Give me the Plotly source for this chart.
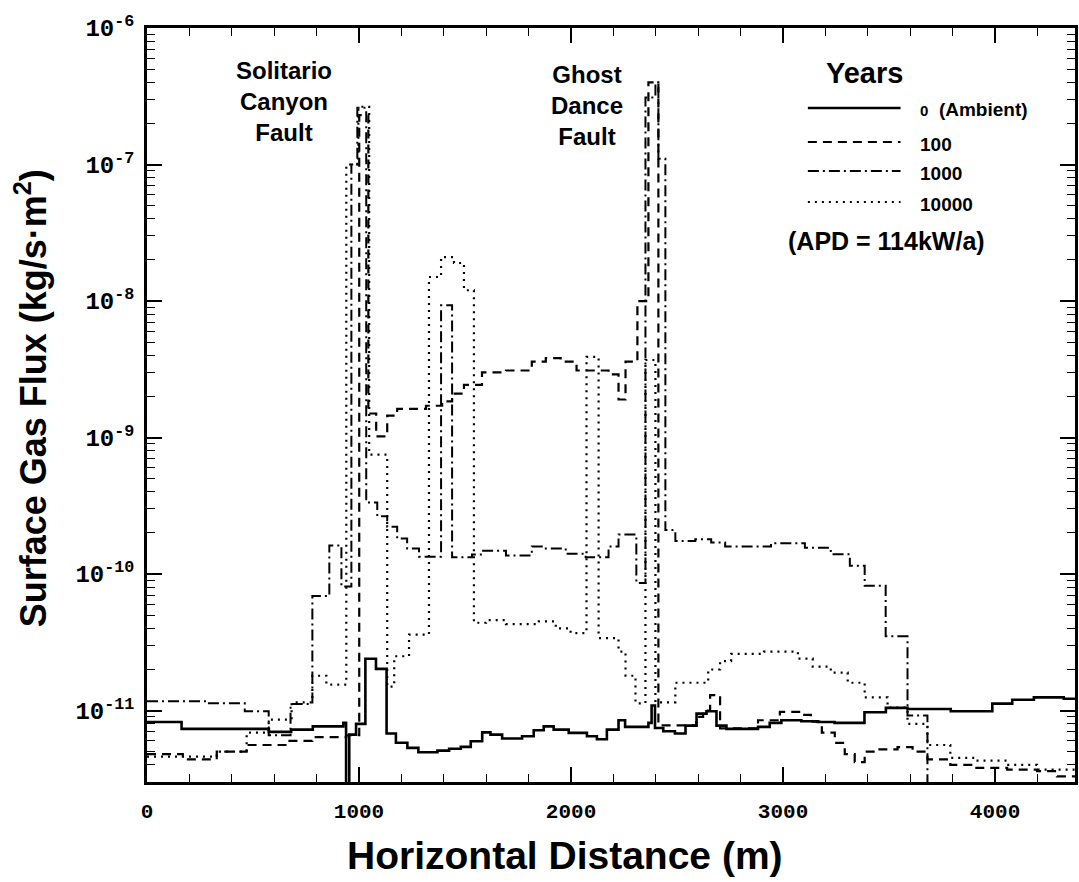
import plotly.graph_objects as go

# ---------------- data (step series: left edge of each cell, flux value) ----------------
X_MAX = 4377

x_ambient = [0, 163, 575, 680, 782, 926, 939, 954, 986, 1030, 1080, 1130, 1174, 1228, 1280,
             1370, 1425, 1480, 1527, 1581, 1620, 1675, 1769, 1824, 1871, 1918, 1989, 2075, 2122, 2169,
             2224, 2255, 2365, 2380, 2396, 2435, 2490, 2540, 2592, 2639, 2686, 2733, 2882, 2937, 2992,
             3086, 3164, 3243, 3384, 3485, 3587, 3791, 3987, 4081, 4183, 4324]
y_ambient = [8.26e-12, 7.35e-12, 6.98e-12, 7.26e-12, 7.67e-12, 8.13e-12, 1e-13, 6.67e-12, 8.0e-12, 2.40e-11,
             2.02e-11, 6.79e-12, 5.81e-12, 5.33e-12, 4.95e-12, 5.09e-12, 5.25e-12, 5.42e-12, 5.96e-12, 6.93e-12,
             6.67e-12, 6.24e-12, 6.49e-12, 7.18e-12, 7.67e-12, 7.26e-12, 6.87e-12, 6.49e-12, 6.17e-12, 7.26e-12,
             8.49e-12, 7.60e-12, 8.13e-12, 1.09e-11, 7.46e-12, 7.06e-12, 6.79e-12, 7.76e-12, 9.5e-12, 9.89e-12,
             7.76e-12, 7.35e-12, 7.6e-12, 8.13e-12, 8.49e-12, 8.36e-12, 8.26e-12, 8.13e-12, 9.73e-12, 1.047e-11,
             1.028e-11, 9.89e-12, 1.125e-11, 1.2e-11, 1.25e-11, 1.22e-11]

x_100 = [0, 169, 329, 470, 672, 780, 940, 1001, 1044, 1081, 1133, 1180, 1316, 1392, 1439,
         1495, 1580, 1693, 1815, 1881, 1951, 2026, 2177, 2224, 2257, 2313, 2365, 2412, 2591, 2623,
         2656, 2703, 2882, 2985, 3084, 3131, 3183, 3244, 3291, 3338, 3385, 3446, 3540, 3611, 3681,
         3789, 3902, 4057, 4198, 4292]
y_100 = [4.8e-12, 4.4e-12, 5.0e-12, 5.6e-12, 6.0e-12, 6.4e-12, 6.6e-12, 2.3e-7, 1.5e-9, 1.02e-9,
         1.45e-9, 1.62e-9, 1.71e-9, 1.84e-9, 2.1e-9, 2.43e-9, 3.0e-9, 3.1e-9, 3.6e-9, 3.82e-9,
         3.6e-9, 3.1e-9, 2.9e-9, 1.9e-9, 3.6e-9, 1.0e-8, 4.0e-7, 7.8e-12, 9.0e-12, 1.0e-11,
         1.3e-11, 7.4e-12, 8.5e-12, 9.8e-12, 9.3e-12, 8.3e-12, 6.9e-12, 5.8e-12, 4.8e-12, 4.2e-12,
         5.0e-12, 5.2e-12, 5.4e-12, 5.0e-12, 4.4e-12, 4.0e-12, 3.8e-12, 3.7e-12, 3.6e-12, 3.3e-12]

x_1000 = [0, 282, 461, 574, 677, 780, 860, 917, 964, 992, 1034, 1086, 1133, 1180, 1227,
          1283, 1387, 1439, 1533, 1580, 1693, 1815, 1881, 1975, 2069, 2177, 2224, 2308, 2351, 2398,
          2412, 2445, 2492, 2586, 2661, 2727, 2943, 3103, 3225, 3315, 3385, 3484, 3587, 3681]
y_1000 = [1.17e-11, 1.13e-11, 9.9e-12, 6.6e-12, 1.12e-11, 6.9e-11, 1.62e-10, 8.1e-11, 1.0e-7, 2.6e-7,
          3.35e-10, 2.65e-10, 2.22e-10, 1.82e-10, 1.54e-10, 1.34e-10, 9.3e-9, 1.33e-10, 1.39e-10, 1.48e-10,
          1.37e-10, 1.59e-10, 1.54e-10, 1.41e-10, 1.33e-10, 1.59e-10, 1.95e-10, 8.6e-11, 3.1e-7, 4.0e-7,
          1.1e-7, 2.1e-10, 1.75e-10, 1.8e-10, 1.7e-10, 1.59e-10, 1.68e-10, 1.56e-10, 1.4e-10, 1.15e-10,
          8.2e-11, 3.5e-11, 9.2e-12, 1e-13]

x_10000 = [0, 329, 470, 574, 682, 780, 846, 940, 997, 1048, 1133, 1166, 1236, 1330, 1387,
           1448, 1495, 1542, 1599, 1693, 1848, 1928, 1998, 2073, 2130, 2224, 2257, 2304, 2351, 2398,
           2492, 2647, 2703, 2755, 2910, 3070, 3140, 3225, 3305, 3385, 3493, 3587, 3681, 3789, 3902,
           4057, 4198]
y_10000 = [4.6e-12, 5.0e-12, 6.9e-12, 8.6e-12, 1.15e-11, 1.8e-11, 1.55e-11, 1.0e-7, 2.65e-7, 7.5e-10,
           1.5e-11, 2.5e-11, 3.6e-11, 1.5e-8, 2.1e-8, 1.9e-8, 1.2e-8, 4.4e-11, 4.6e-11, 4.3e-11,
           4.5e-11, 4.0e-11, 3.7e-11, 3.9e-9, 3.4e-11, 2.7e-11, 1.8e-11, 1.13e-11, 3.7e-9, 1.15e-11,
           1.6e-11, 2.0e-11, 2.3e-11, 2.6e-11, 2.7e-11, 2.4e-11, 2.1e-11, 1.9e-11, 1.6e-11, 1.25e-11,
           1.05e-11, 8.0e-12, 5.6e-12, 4.5e-12, 4.3e-12, 4.0e-12, 3.7e-12]

legend_labels = ["<span style='font-size:15px'>0</span>  (Ambient)", "100", "1000", "10000"]
x_ticks = [0, 1000, 2000, 3000, 4000]
y_ticks = [1e-11, 1e-10, 1e-9, 1e-8, 1e-7, 1e-6]
y_ticktext = ["10<sup>-11</sup>", "10<sup>-10</sup>", "10<sup>-9</sup>", "10<sup>-8</sup>",
              "10<sup>-7</sup>", "10<sup>-6</sup>"]

# ---------------- layout helpers ----------------
W, H = 1079, 882
ML, MR, MT, MB = 147, 1, 28, 100
PW, PH = W - ML - MR, H - MT - MB


def pxx(x):
    return (x - ML) / PW


def pxy(y):
    return 1 - (y - MT) / PH


SANS = "Liberation Sans"
MONO = "Liberation Mono"

dashes = ["solid", "9px,6px", "11px,4px,2px,4px", "2px,5px"]
widths = [2.6, 2.2, 2.0, 2.2]
series = [(x_ambient, y_ambient), (x_100, y_100), (x_1000, y_1000), (x_10000, y_10000)]

fig = go.Figure()
for (xs, ys), dsh, w in zip(series, dashes, widths):
    fig.add_trace(go.Scatter(
        x=list(xs) + [X_MAX], y=list(ys) + [ys[-1]], mode="lines",
        line=dict(shape="hv", color="black", width=w, dash=dsh), showlegend=False,
        hoverinfo="skip"))

minor_y = [k * 10.0 ** e for e in range(-12, -6) for k in range(2, 10)]
minor_y = [v for v in minor_y if 3e-12 <= v <= 1e-6]

fig.update_layout(
    width=W, height=H, margin=dict(l=ML, r=MR, t=MT, b=MB),
    paper_bgcolor="white", plot_bgcolor="white",
    xaxis=dict(range=[0, X_MAX], tickvals=x_ticks, ticktext=[str(v) for v in x_ticks],
               ticks="inside", ticklen=15, tickwidth=1.5, tickcolor="black",
               minor=dict(tickvals=list(range(200, 4400, 200)), ticks="inside", ticklen=8,
                          tickwidth=1.2, tickcolor="black", showgrid=False),
               showline=True, linewidth=2.5, linecolor="black", mirror="allticks",
               showgrid=False, zeroline=False, ticklabelstandoff=8,
               tickfont=dict(family=MONO, size=21, color="black", weight="bold")),
    yaxis=dict(type="log", range=[-11.523, -6], tickvals=y_ticks, ticktext=y_ticktext,
               ticks="inside", ticklen=15, tickwidth=1.5, tickcolor="black",
               minor=dict(tickvals=minor_y, ticks="inside", ticklen=8, tickwidth=1.2,
                          tickcolor="black", showgrid=False),
               showline=True, linewidth=2.5, linecolor="black", mirror="allticks",
               showgrid=False, zeroline=False, ticklabelstandoff=5,
               tickfont=dict(family=MONO, size=24, color="black", weight="bold")),
)

# legend (custom, drawn inside the plot)
leg_y = [108, 142, 171, 202]
for yy, dsh, w, lab in zip(leg_y, dashes, widths, legend_labels):
    fig.add_shape(type="line", xref="paper", yref="paper", x0=pxx(810), x1=pxx(903),
                  y0=pxy(yy), y1=pxy(yy), line=dict(color="black", width=w, dash=dsh))
    fig.add_annotation(xref="paper", yref="paper", x=pxx(920), y=pxy(yy + 2), text="<b>" + lab + "</b>",
                       showarrow=False, xanchor="left", yanchor="middle",
                       font=dict(family=SANS, size=19, color="black"))

texts = [
    ("<b>Years</b>", 867, 73, 29),
    ("<b>(APD = 114kW/a)</b>", 889, 241, 25),
    ("<b>Solitario<br>Canyon<br>Fault</b>", 284, 101, 24),
    ("<b>Ghost<br>Dance<br>Fault</b>", 588, 105, 24),
]
for t, xx, yy, sz in texts:
    fig.add_annotation(xref="paper", yref="paper", x=pxx(xx), y=pxy(yy), text=t, showarrow=False,
                       xanchor="center", yanchor="middle", align="center",
                       font=dict(family=SANS, size=sz, color="black"))

# axis titles
fig.add_annotation(xref="paper", yref="paper", x=pxx(31), y=pxy(398),
                   text="<b>Surface Gas Flux (kg/s·m<sup>2</sup>)</b>", textangle=-90,
                   showarrow=False, xanchor="center", yanchor="middle",
                   font=dict(family=SANS, size=36, color="black"))
fig.add_annotation(xref="paper", yref="paper", x=pxx(566), y=pxy(855),
                   text="<b>Horizontal Distance (m)</b>", showarrow=False,
                   xanchor="center", yanchor="middle",
                   font=dict(family=SANS, size=39, color="black"))

fig.write_html("out.html")
